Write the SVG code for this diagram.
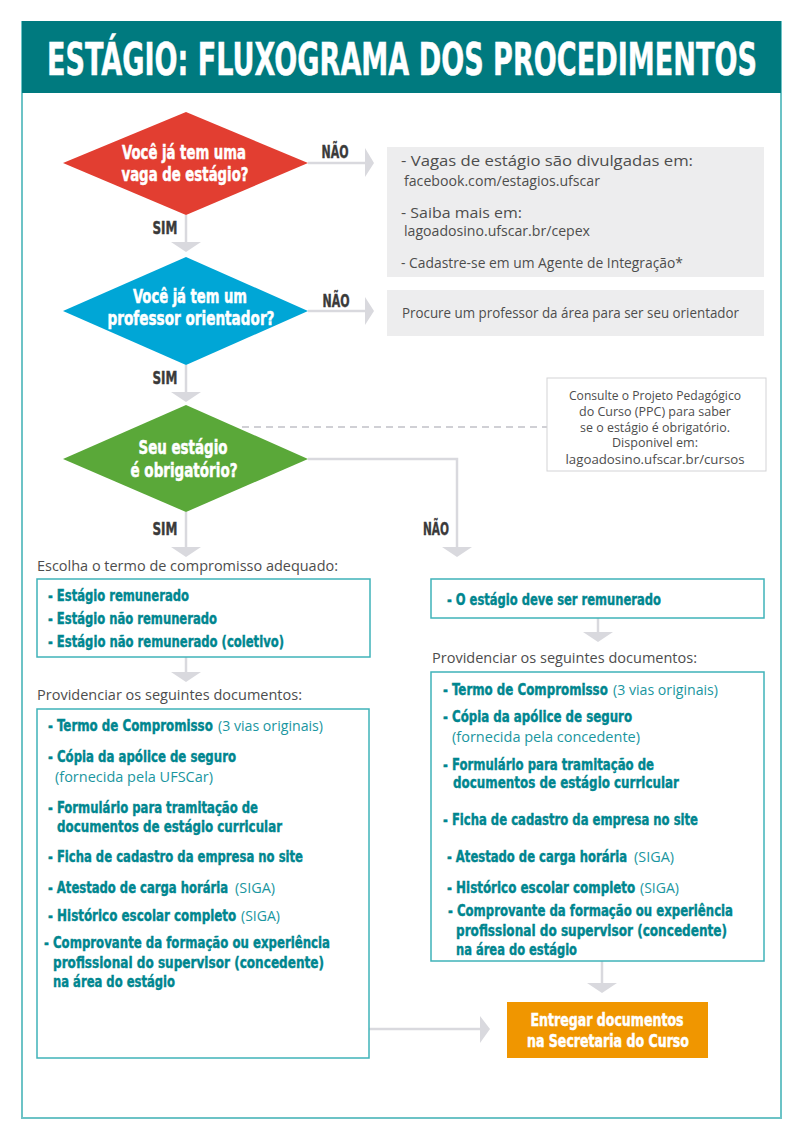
<svg xmlns="http://www.w3.org/2000/svg" width="800" height="1143" viewBox="0 0 800 1143">
<defs>
<style>
.cb{font-family:"Liberation Sans Narrow","DejaVu Sans Condensed","Liberation Sans",sans-serif;font-weight:bold}
.rg{font-family:"Open Sans","Noto Sans","Liberation Sans",sans-serif;font-weight:normal}
.wt{fill:#ffffff;stroke:#ffffff;stroke-width:0.5}
.lbl{fill:#3a3a3a;stroke:#3a3a3a;stroke-width:0.4;font-size:18px}
.dt{font-size:20px}
.tb{fill:#00868f;stroke:#00868f;stroke-width:0.4;font-size:16px}
.tr{fill:#1a96a0;stroke:none;font-size:14px}
.gr{fill:#4d4d4d;font-size:14px}
.nt{fill:#4d4d4d;font-size:12.5px}
.ln{fill:none;stroke:#d9d9de;stroke-width:2.5}
.ah{fill:#d9d9de}
.tbox{fill:#ffffff;stroke:#3fb3b9;stroke-width:1.5}
.gbox{fill:#ededee}
</style>
</defs>
<rect x="0" y="0" width="800" height="1143" fill="#ffffff"/>
<g id="frame">
<rect x="22" y="22" width="759" height="1096" fill="none" stroke="#6cc3c6" stroke-width="2"/>
<rect x="22" y="21" width="759" height="72" fill="#007a7f"/>
<text class="cb wt" transform="translate(402,75) scale(0.7,1)" x="0" y="0" font-size="44" stroke-width="1.2" text-anchor="middle" textLength="1014" lengthAdjust="spacingAndGlyphs">ESTÁGIO: FLUXOGRAMA DOS PROCEDIMENTOS</text>
</g>
<g id="connectors">
<line class="ln" x1="308" y1="163" x2="366" y2="163"/>
<polygon class="ah" points="365,148 374,163 365,177"/>
<line class="ln" x1="186" y1="215" x2="186" y2="243"/>
<polygon class="ah" points="171,242 201,242 186,252"/>
<line class="ln" x1="308" y1="311" x2="366" y2="311"/>
<polygon class="ah" points="365,297 374,311 365,325"/>
<line class="ln" x1="186" y1="365" x2="186" y2="393"/>
<polygon class="ah" points="171,392 201,392 186,402"/>
<line x1="242" y1="427" x2="547" y2="427" stroke="#d0d0d5" stroke-width="2" stroke-dasharray="7,5"/>
<polyline class="ln" points="308,459 457,459 457,548"/>
<polygon class="ah" points="442,547 472,547 457,557"/>
<line class="ln" x1="186" y1="512" x2="186" y2="548"/>
<polygon class="ah" points="171,547 201,547 186,557"/>
<line class="ln" x1="186" y1="657" x2="186" y2="673"/>
<polygon class="ah" points="171,672 201,672 186,682"/>
<line class="ln" x1="598" y1="618" x2="598" y2="633"/>
<polygon class="ah" points="583,632 613,632 598,642"/>
<line class="ln" x1="602" y1="961" x2="602" y2="984"/>
<polygon class="ah" points="587,983 617,983 602,993"/>
<line class="ln" x1="369" y1="1029" x2="481" y2="1029"/>
<polygon class="ah" points="480,1016 490,1029 480,1043"/>
<text class="cb lbl" x="335" y="158" text-anchor="middle" textLength="27" lengthAdjust="spacingAndGlyphs">NÃO</text>
<text class="cb lbl" x="336" y="307" text-anchor="middle" textLength="27" lengthAdjust="spacingAndGlyphs">NÃO</text>
<text class="cb lbl" x="165" y="234" text-anchor="middle" textLength="25" lengthAdjust="spacingAndGlyphs">SIM</text>
<text class="cb lbl" x="165" y="384" text-anchor="middle" textLength="25" lengthAdjust="spacingAndGlyphs">SIM</text>
<text class="cb lbl" x="165" y="535" text-anchor="middle" textLength="25" lengthAdjust="spacingAndGlyphs">SIM</text>
<text class="cb lbl" x="436" y="535" text-anchor="middle" textLength="26" lengthAdjust="spacingAndGlyphs">NÃO</text>
</g>
<g id="q1">
<polygon points="63,163 186,112 308,163 186,215" fill="#e23e31"/>
<text class="cb wt dt" x="184" y="159" text-anchor="middle" textLength="124" lengthAdjust="spacingAndGlyphs">Você já tem uma</text>
<text class="cb wt dt" x="185" y="181" text-anchor="middle" textLength="127" lengthAdjust="spacingAndGlyphs">vaga de estágio?</text>
</g>
<g id="info1">
<rect class="gbox" x="387" y="147" width="377" height="130"/>
<text class="rg gr" x="401" y="166" textLength="292" lengthAdjust="spacingAndGlyphs">- Vagas de estágio são divulgadas em:</text>
<text class="rg gr" x="404" y="186" textLength="196" lengthAdjust="spacingAndGlyphs">facebook.com/estagios.ufscar</text>
<text class="rg gr" x="401" y="218" textLength="121" lengthAdjust="spacingAndGlyphs">- Saiba mais em:</text>
<text class="rg gr" x="404" y="236" textLength="186" lengthAdjust="spacingAndGlyphs">lagoadosino.ufscar.br/cepex</text>
<text class="rg gr" x="401" y="268" textLength="282" lengthAdjust="spacingAndGlyphs">- Cadastre-se em um Agente de Integração*</text>
</g>
<g id="q2">
<polygon points="63,311 186,257 308,311 186,365" fill="#00a6d6"/>
<text class="cb wt dt" x="190" y="303" text-anchor="middle" textLength="114" lengthAdjust="spacingAndGlyphs">Você já tem um</text>
<text class="cb wt dt" x="191" y="325" text-anchor="middle" textLength="167" lengthAdjust="spacingAndGlyphs">professor orientador?</text>
</g>
<g id="info2">
<rect class="gbox" x="387" y="290" width="377" height="46"/>
<text class="rg gr" x="402" y="318" textLength="337" lengthAdjust="spacingAndGlyphs">Procure um professor da área para ser seu orientador</text>
</g>
<g id="q3">
<polygon points="63,459 186,405 308,459 186,512" fill="#5aa839"/>
<text class="cb wt dt" x="183" y="454" text-anchor="middle" textLength="89" lengthAdjust="spacingAndGlyphs">Seu estágio</text>
<text class="cb wt dt" x="184" y="477" text-anchor="middle" textLength="107" lengthAdjust="spacingAndGlyphs">é obrigatório?</text>
</g>
<g id="note">
<rect x="547" y="378" width="219" height="93" fill="#ffffff" stroke="#d3d3d6" stroke-width="1"/>
<text class="rg nt" x="655" y="400" text-anchor="middle" textLength="172" lengthAdjust="spacingAndGlyphs">Consulte o Projeto Pedagógico</text>
<text class="rg nt" x="655" y="416" text-anchor="middle" textLength="152" lengthAdjust="spacingAndGlyphs">do  Curso (PPC) para saber</text>
<text class="rg nt" x="655" y="432" text-anchor="middle" textLength="150" lengthAdjust="spacingAndGlyphs">se o estágio é obrigatório.</text>
<text class="rg nt" x="655" y="447" text-anchor="middle" textLength="86" lengthAdjust="spacingAndGlyphs">Disponivel em:</text>
<text class="rg nt" x="655" y="464" text-anchor="middle" textLength="179" lengthAdjust="spacingAndGlyphs">lagoadosino.ufscar.br/cursos</text>
</g>
<g id="termo-sim">
<text class="rg gr" x="37" y="571" font-size="15" textLength="301" lengthAdjust="spacingAndGlyphs">Escolha o termo de compromisso adequado:</text>
<rect class="tbox" x="37" y="579" width="333" height="78"/>
<text class="cb tb" x="48" y="601" textLength="141" lengthAdjust="spacingAndGlyphs">- Estágio remunerado</text>
<text class="cb tb" x="48" y="624" textLength="169" lengthAdjust="spacingAndGlyphs">- Estágio não remunerado</text>
<text class="cb tb" x="48" y="647" textLength="236" lengthAdjust="spacingAndGlyphs">- Estágio não remunerado (coletivo)</text>
</g>
<g id="termo-nao">
<rect class="tbox" x="431" y="579" width="333" height="39"/>
<text class="cb tb" x="447" y="605" textLength="214" lengthAdjust="spacingAndGlyphs">- O estágio deve ser remunerado</text>
</g>
<g id="docs-sim">
<text class="rg gr" x="37" y="700" font-size="15" textLength="265" lengthAdjust="spacingAndGlyphs">Providenciar os seguintes documentos:</text>
<rect class="tbox" x="37" y="709" width="332" height="349"/>
<text class="cb tb" transform="translate(48,731) scale(0.8,1)" x="0" y="0" textLength="206" lengthAdjust="spacingAndGlyphs">- Termo de Compromisso</text>
<text class="rg tr" x="218" y="731" textLength="105" lengthAdjust="spacingAndGlyphs">(3 vias originais)</text>
<text class="cb tb" x="48" y="762" textLength="188" lengthAdjust="spacingAndGlyphs">- Cópia da apólice de seguro</text>
<text class="rg tr" x="55" y="782" textLength="158" lengthAdjust="spacingAndGlyphs">(fornecida pela UFSCar)</text>
<text class="cb tb" x="48" y="813" textLength="210" lengthAdjust="spacingAndGlyphs">- Formulário para tramitação de</text>
<text class="cb tb" x="57" y="832" textLength="225" lengthAdjust="spacingAndGlyphs">documentos de estágio curricular</text>
<text class="cb tb" x="48" y="862" textLength="255" lengthAdjust="spacingAndGlyphs">- Ficha de cadastro da empresa no site</text>
<text class="cb tb" transform="translate(48,893) scale(0.75,1)" x="0" y="0" textLength="240" lengthAdjust="spacingAndGlyphs">- Atestado de carga horária</text>
<text class="rg tr" x="235" y="893" textLength="40" lengthAdjust="spacingAndGlyphs">(SIGA)</text>
<text class="cb tb" transform="translate(48,921) scale(0.75,1)" x="0" y="0" textLength="251" lengthAdjust="spacingAndGlyphs">- Histórico escolar completo</text>
<text class="rg tr" x="241" y="921" textLength="39" lengthAdjust="spacingAndGlyphs">(SIGA)</text>
<text class="cb tb" x="44" y="948" textLength="286" lengthAdjust="spacingAndGlyphs">- Comprovante da formação ou experiência</text>
<text class="cb tb" x="53" y="968" textLength="271" lengthAdjust="spacingAndGlyphs">profissional do  supervisor (concedente)</text>
<text class="cb tb" x="53" y="987" textLength="122" lengthAdjust="spacingAndGlyphs">na área do estágio</text>
</g>
<g id="docs-nao">
<text class="rg gr" x="432" y="663" font-size="15" textLength="265" lengthAdjust="spacingAndGlyphs">Providenciar os seguintes documentos:</text>
<rect class="tbox" x="431" y="672" width="333" height="289"/>
<text class="cb tb" transform="translate(443,695) scale(0.8,1)" x="0" y="0" textLength="206" lengthAdjust="spacingAndGlyphs">- Termo de Compromisso</text>
<text class="rg tr" x="613" y="695" textLength="105" lengthAdjust="spacingAndGlyphs">(3 vias originais)</text>
<text class="cb tb" x="443" y="722" textLength="189" lengthAdjust="spacingAndGlyphs">- Cópia da apólice de seguro</text>
<text class="rg tr" x="452" y="742" textLength="188" lengthAdjust="spacingAndGlyphs">(fornecida pela concedente)</text>
<text class="cb tb" x="443" y="770" textLength="211" lengthAdjust="spacingAndGlyphs">- Formulário para tramitação de</text>
<text class="cb tb" x="453" y="788" textLength="226" lengthAdjust="spacingAndGlyphs">documentos de estágio curricular</text>
<text class="cb tb" x="443" y="825" textLength="255" lengthAdjust="spacingAndGlyphs">- Ficha de cadastro da empresa no site</text>
<text class="cb tb" transform="translate(447,862) scale(0.75,1)" x="0" y="0" textLength="240" lengthAdjust="spacingAndGlyphs">- Atestado de carga horária</text>
<text class="rg tr" x="634" y="862" textLength="40" lengthAdjust="spacingAndGlyphs">(SIGA)</text>
<text class="cb tb" transform="translate(447,893) scale(0.75,1)" x="0" y="0" textLength="251" lengthAdjust="spacingAndGlyphs">- Histórico escolar completo</text>
<text class="rg tr" x="640" y="893" textLength="39" lengthAdjust="spacingAndGlyphs">(SIGA)</text>
<text class="cb tb" x="448" y="916" textLength="285" lengthAdjust="spacingAndGlyphs">- Comprovante da formação ou experiência</text>
<text class="cb tb" x="456" y="936" textLength="271" lengthAdjust="spacingAndGlyphs">profissional do  supervisor (concedente)</text>
<text class="cb tb" x="456" y="955" textLength="121" lengthAdjust="spacingAndGlyphs">na área do estágio</text>
</g>
<g id="entregar">
<rect x="507" y="1002" width="201" height="56" fill="#f09600"/>
<text class="cb wt" x="607" y="1026" font-size="17.5" text-anchor="middle" textLength="153" lengthAdjust="spacingAndGlyphs">Entregar documentos</text>
<text class="cb wt" x="608" y="1047" font-size="17.5" text-anchor="middle" textLength="162" lengthAdjust="spacingAndGlyphs">na Secretaria do Curso</text>
</g>
</svg>
